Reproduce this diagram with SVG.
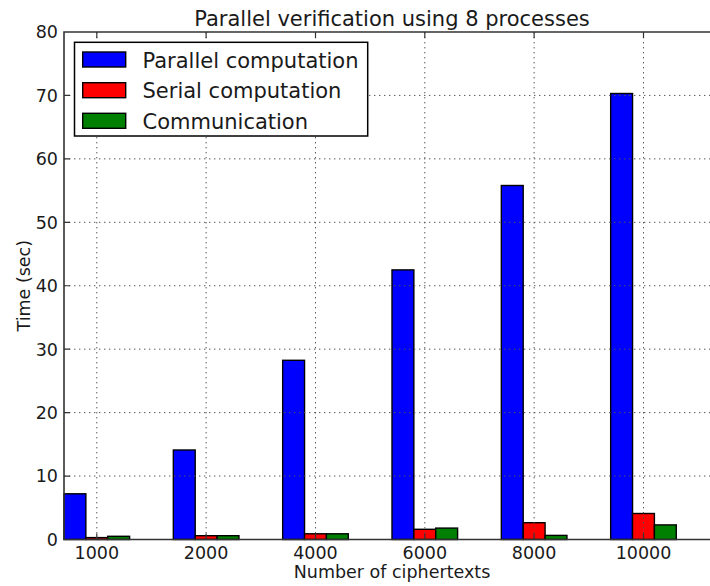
<svg xmlns="http://www.w3.org/2000/svg" width="710" height="586" viewBox="0 0 710 586">
  <style>
    text { font-family: "DejaVu Sans", "Liberation Sans", sans-serif; fill: #1a1a1a; }
    .title { font-size: 21px; text-anchor: middle; }
    .leg { font-size: 21px; }
    .tick { font-size: 17.5px; }
    .ytick { text-anchor: end; }
    .xtick { text-anchor: middle; }
    .axlabel { font-size: 17.5px; text-anchor: middle; }
    .bar { stroke: #000; stroke-width: 1.4; }
    .par { fill: #0000ff; }
    .ser { fill: #ff0000; }
    .com { fill: #008000; }
    .grid { stroke: #555; stroke-width: 1; stroke-dasharray: 1.4 3.6; fill: none; }
    .spine { stroke: #333; stroke-width: 1.6; fill: none; }
    .tk { stroke: #333; stroke-width: 1.2; }
  </style>
  <rect width="710" height="586" fill="#fff"/>

  <text class="title" x="392" y="25.7">Parallel verification using 8 processes</text>

  <!-- bars: group left edges at 64 + i*109.33, bar width 21.87, y0 = 539.5, 6.344 px per second -->
  <g id="bars-parallel">
    <rect class="bar par" x="64" y="493.8" width="21.87" height="45.7"/>
    <rect class="bar par" x="173.33" y="450.0" width="21.87" height="89.5"/>
    <rect class="bar par" x="282.67" y="360.3" width="21.87" height="179.2"/>
    <rect class="bar par" x="392.0" y="269.9" width="21.87" height="269.6"/>
    <rect class="bar par" x="501.33" y="185.5" width="21.87" height="354.0"/>
    <rect class="bar par" x="610.67" y="93.5" width="21.87" height="446.0"/>
  </g>
  <g id="bars-serial">
    <rect class="bar ser" x="85.87" y="537.6" width="21.87" height="1.9"/>
    <rect class="bar ser" x="195.2" y="535.7" width="21.87" height="3.8"/>
    <rect class="bar ser" x="304.53" y="533.8" width="21.87" height="5.7"/>
    <rect class="bar ser" x="413.87" y="529.3" width="21.87" height="10.2"/>
    <rect class="bar ser" x="523.2" y="522.7" width="21.87" height="16.8"/>
    <rect class="bar ser" x="632.53" y="513.5" width="21.87" height="26.0"/>
  </g>
  <g id="bars-communication">
    <rect class="bar com" x="107.73" y="536.3" width="21.87" height="3.2"/>
    <rect class="bar com" x="217.07" y="535.7" width="21.87" height="3.8"/>
    <rect class="bar com" x="326.4" y="533.8" width="21.87" height="5.7"/>
    <rect class="bar com" x="435.73" y="528.1" width="21.87" height="11.4"/>
    <rect class="bar com" x="545.07" y="535.4" width="21.87" height="4.1"/>
    <rect class="bar com" x="654.4" y="524.9" width="21.87" height="14.6"/>
  </g>

  <!-- dotted grid, drawn over the bars -->
  <g id="grid">
    <path class="grid" d="M96.8 32V539.5M206.1 32V539.5M315.5 32V539.5M424.8 32V539.5M534.1 32V539.5M643.5 32V539.5"/>
    <path class="grid" d="M64 476.06H710M64 412.62H710M64 349.18H710M64 285.74H710M64 222.3H710M64 158.86H710M64 95.42H710"/>
  </g>

  <!-- axes frame and inward ticks -->
  <g id="axes">
    <path class="spine" d="M710 32H64V539.5H710"/>
    <path class="tk" d="M64 476.06h6M64 412.62h6M64 349.18h6M64 285.74h6M64 222.3h6M64 158.86h6M64 95.42h6"/>
    <path class="tk" d="M96.8 32v6M206.1 32v6M315.5 32v6M424.8 32v6M534.1 32v6M643.5 32v6"/>
    <path class="tk" d="M96.8 539.5v-6M206.1 539.5v-6M315.5 539.5v-6M424.8 539.5v-6M534.1 539.5v-6M643.5 539.5v-6"/>
  </g>

  <g id="yticks" class="tick">
    <text class="ytick" x="58" y="545.8">0</text>
    <text class="ytick" x="58" y="482.4">10</text>
    <text class="ytick" x="58" y="418.9">20</text>
    <text class="ytick" x="58" y="355.5">30</text>
    <text class="ytick" x="58" y="292.0">40</text>
    <text class="ytick" x="58" y="228.6">50</text>
    <text class="ytick" x="58" y="165.2">60</text>
    <text class="ytick" x="58" y="101.7">70</text>
    <text class="ytick" x="58" y="38.3">80</text>
  </g>
  <g id="xticks" class="tick">
    <text class="xtick" x="96.8" y="559.3">1000</text>
    <text class="xtick" x="206.1" y="559.3">2000</text>
    <text class="xtick" x="315.5" y="559.3">4000</text>
    <text class="xtick" x="424.8" y="559.3">6000</text>
    <text class="xtick" x="534.1" y="559.3">8000</text>
    <text class="xtick" x="643.5" y="559.3">10000</text>
  </g>

  <text class="axlabel" x="392" y="578.3">Number of ciphertexts</text>
  <text class="axlabel" transform="translate(29.5 285.7) rotate(-90)">Time (sec)</text>

  <g id="legend">
    <rect x="74.5" y="42.3" width="293.2" height="93.7" fill="#fff" stroke="#000" stroke-width="1.5"/>
    <rect class="bar par" x="82.7" y="52" width="43" height="15"/>
    <rect class="bar ser" x="82.7" y="82.7" width="43" height="15"/>
    <rect class="bar com" x="82.7" y="113.3" width="43" height="15"/>
    <text class="leg" x="142.5" y="67.7">Parallel computation</text>
    <text class="leg" x="142.5" y="98.3">Serial computation</text>
    <text class="leg" x="142.5" y="128.9">Communication</text>
  </g>
</svg>
